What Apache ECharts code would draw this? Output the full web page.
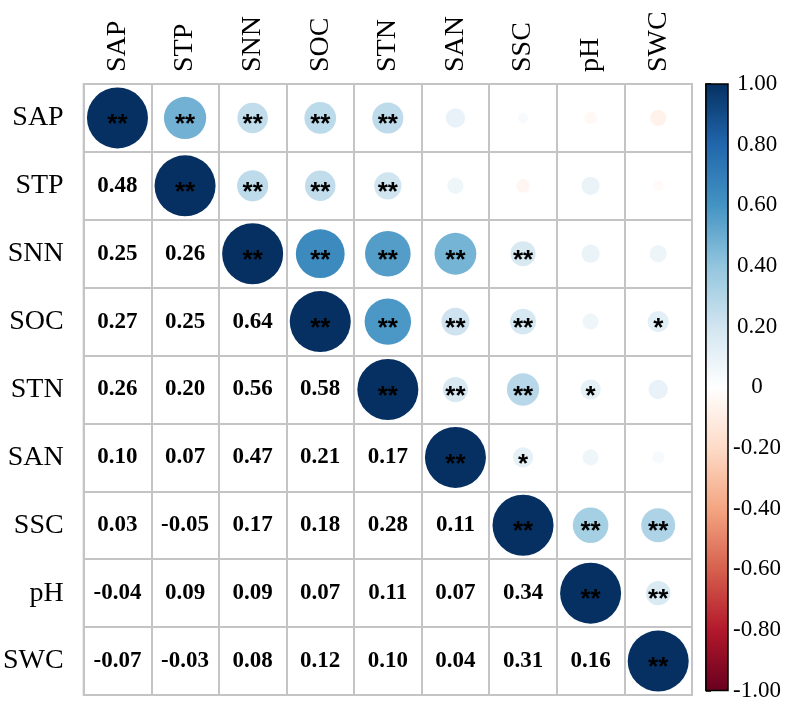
<!DOCTYPE html>
<html>
<head>
<meta charset="utf-8">
<script src="https://cdn.jsdelivr.net/npm/echarts@6/dist/echarts.min.js"></script>
<style>html,body{margin:0;padding:0;background:#fff;}#c{width:787px;height:702px;}</style>
</head>
<body>
<div id="c"></div>
<script>
// Variable names (rows top->bottom, columns left->right)
const names = ['SAP', 'STP', 'SNN', 'SOC', 'STN', 'SAN', 'SSC', 'pH', 'SWC'];

// Lower-triangle correlation coefficients (row i, columns 0..i-1)
const rowSAP = [];
const rowSTP = [0.48];
const rowSNN = [0.25, 0.26];
const rowSOC = [0.27, 0.25, 0.64];
const rowSTN = [0.26, 0.20, 0.56, 0.58];
const rowSAN = [0.10, 0.07, 0.47, 0.21, 0.17];
const rowSSC = [0.03, -0.05, 0.17, 0.18, 0.28, 0.11];
const rowPH  = [-0.04, 0.09, 0.09, 0.07, 0.11, 0.07, 0.34];
const rowSWC = [-0.07, -0.03, 0.08, 0.12, 0.10, 0.04, 0.31, 0.16];

// Significance marks for upper triangle (row i, columns i..8)
const sigSAP = ['**', '**', '**', '**', '**', '', '', '', ''];
const sigSTP = ['**', '**', '**', '**', '', '', '', ''];
const sigSNN = ['**', '**', '**', '**', '**', '', ''];
const sigSOC = ['**', '**', '**', '**', '', '*'];
const sigSTN = ['**', '**', '**', '*', ''];
const sigSAN = ['**', '*', '', ''];
const sigSSC = ['**', '**', '**'];
const sigPH  = ['**', '**'];
const sigSWC = ['**'];

// Colour bar ticks
const barMin = -1, barMax = 1, barStep = 0.2;
// RdBu palette (low -> high)
const palette = ['#67001F', '#B2182B', '#D6604D', '#F4A582', '#FDDBC7', '#FFFFFF',
                 '#D1E5F0', '#92C5DE', '#4393C3', '#2166AC', '#053061'];

const lowerRows = [rowSAP, rowSTP, rowSNN, rowSOC, rowSTN, rowSAN, rowSSC, rowPH, rowSWC];
const sigRows = [sigSAP, sigSTP, sigSNN, sigSOC, sigSTN, sigSAN, sigSSC, sigPH, sigSWC];
const n = names.length;
const R = [];
for (let i = 0; i < n; i++) { R.push(new Array(n).fill(0)); R[i][i] = 1; }
for (let i = 0; i < n; i++) {
  for (let j = 0; j < i; j++) { R[i][j] = lowerRows[i][j]; R[j][i] = lowerRows[i][j]; }
}
const upperData = [];
const lowerData = [];
for (let i = 0; i < n; i++) {
  for (let j = 0; j < n; j++) {
    if (j >= i) upperData.push([j, i, R[i][j], sigRows[i][j - i]]);
    else lowerData.push([j, i, R[i][j]]);
  }
}

const GL = 82, GT = 84, GW = 610, GH = 611;
const cell = GW / n;
const gridColor = '#c4c4c4';
const serif = 'Liberation Serif';

const chart = echarts.init(document.getElementById('c'), null, { renderer: 'canvas' });
chart.setOption({
  backgroundColor: '#fff',
  animation: false,
  grid: [
    { left: GL, top: GT, width: GW, height: GH, show: true, borderColor: gridColor, borderWidth: 2, backgroundColor: 'transparent' },
    { left: 706, top: 84, width: 22, height: 610 }
  ],
  xAxis: [
    {
      type: 'category', data: names, position: 'top', gridIndex: 0,
      axisLine: { show: false }, axisTick: { show: false },
      splitLine: { show: true, lineStyle: { color: gridColor, width: 2 } },
      axisLabel: { rotate: -90, fontSize: 28, fontFamily: serif, color: '#000', margin: 12 }
    },
    { type: 'value', gridIndex: 1, min: 0, max: 1, show: false }
  ],
  yAxis: [
    {
      type: 'category', data: names, inverse: true, gridIndex: 0,
      axisLine: { show: false }, axisTick: { show: false },
      splitLine: { show: true, lineStyle: { color: gridColor, width: 2 } },
      axisLabel: { fontSize: 28, fontFamily: serif, color: '#000', margin: 20 }
    },
    {
      type: 'value', gridIndex: 1, min: barMin, max: barMax, interval: barStep, position: 'right',
      axisLine: { show: true, lineStyle: { color: '#000', width: 1.5 } },
      axisTick: { show: true, length: 5, lineStyle: { color: '#000', width: 1.5 } },
      splitLine: { show: false },
      axisLabel: {
        fontSize: 23, fontFamily: serif, color: '#000', align: 'center', margin: 29,
        formatter: v => Math.abs(v) < 1e-9 ? '0' : v.toFixed(2)
      }
    }
  ],
  visualMap: {
    show: false, type: 'continuous', seriesIndex: 0, dimension: 2,
    min: barMin, max: barMax, inRange: { color: palette }
  },
  series: [
    {
      type: 'scatter', xAxisIndex: 0, yAxisIndex: 0, data: upperData,
      symbol: 'circle',
      symbolSize: v => Math.sqrt(Math.abs(v[2])) * cell * 0.9,
      itemStyle: { opacity: 1 },
      emphasis: { disabled: true },
      label: {
        show: true, position: 'inside', formatter: p => p.data[3],
        color: '#000', opacity: 1, fontSize: 26, fontWeight: 'bold', fontFamily: 'Liberation Sans', offset: [0, 7]
      }
    },
    {
      type: 'scatter', xAxisIndex: 0, yAxisIndex: 0, data: lowerData,
      symbolSize: 1, itemStyle: { color: '#fff', opacity: 1 },
      emphasis: { disabled: true },
      label: {
        show: true, position: 'inside', formatter: p => p.data[2].toFixed(2),
        color: '#000', opacity: 1, fontSize: 23, fontWeight: 'bold', fontFamily: serif
      }
    },
    {
      type: 'custom', xAxisIndex: 1, yAxisIndex: 1, data: [[0, 0]],
      silent: true,
      renderItem: (params, api) => {
        const tl = api.coord([0, barMax]);
        const br = api.coord([1, barMin]);
        const stops = palette.slice().reverse().map((c, k) => ({ offset: k / (palette.length - 1), color: c }));
        return {
          type: 'rect',
          shape: { x: tl[0], y: tl[1], width: br[0] - tl[0], height: br[1] - tl[1] },
          style: { fill: new echarts.graphic.LinearGradient(0, 0, 0, 1, stops), stroke: '#000', lineWidth: 1.5 }
        };
      }
    }
  ]
});
</script>
</body>
</html>
